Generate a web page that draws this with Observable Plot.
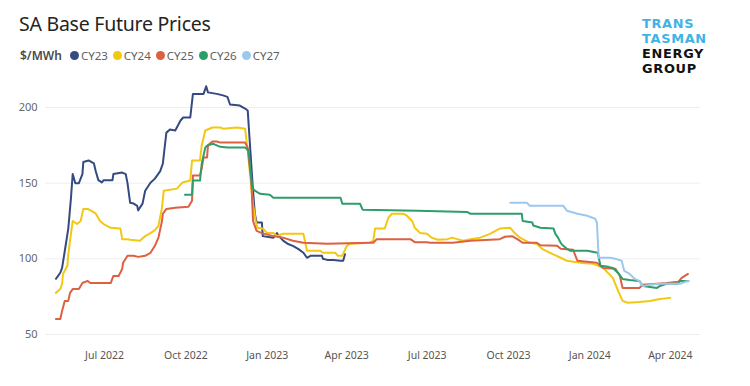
<!DOCTYPE html>
<html>
<head>
<meta charset="utf-8">
<script src="https://cdn.jsdelivr.net/npm/d3@7"></script>
<script src="https://cdn.jsdelivr.net/npm/@observablehq/plot@0.6"></script>
<style>
  html, body { margin: 0; padding: 0; background: #fff; }
  #wrap { position: relative; width: 750px; height: 386px; overflow: hidden; font-family: "Noto Sans", "Open Sans", sans-serif; }
  #title { position: absolute; left: 19px; top: 10px; font-size: 19.5px; color: #252423; letter-spacing: -0.25px; }
  #legend { position: absolute; left: 20px; top: 47px; display: flex; align-items: center; font-size: 11.5px; color: #605e5c; }
  #legend .unit { font-weight: 600; color: #4a4a4a; margin-right: 8px; font-size: 12px; }
  #legend .item { display: flex; align-items: center; margin-right: 5px; }
  #legend .dot { width: 9px; height: 9px; border-radius: 50%; margin-right: 2px; }
  #logo { position: absolute; z-index: 2; left: 642px; top: 15.5px; font-family: "DejaVu Sans", sans-serif; font-weight: 700; font-size: 12.9px; line-height: 15px; letter-spacing: 0.7px; }
  #logo div { height: 15px; white-space: nowrap; }
  #logo .b { color: #3fb3e6; }
  #logo .k { color: #111; }
  #chart { position: absolute; z-index: 1; left: 0; top: 70px; }
</style>
</head>
<body>
<div id="wrap">
  <div id="title">SA Base Future Prices</div>
  <div id="legend"></div>
  <div id="logo"><div class="b">TRANS</div><div class="b">TASMAN</div><div class="k">ENERGY</div><div class="k">GROUP</div></div>
  <div id="chart"></div>
</div>
<script>
const seriesNames = ["CY23", "CY24", "CY25", "CY26", "CY27"];
const seriesColors = ["#354a80", "#f2c811", "#dd6041", "#2e9d6c", "#9dc8ee"];
const unitLabel = "$/MWh";
const xTicks = ["2022-07-01","2022-10-01","2023-01-01","2023-04-01","2023-07-01","2023-10-01","2024-01-01","2024-04-01"];
const yTicks = [50, 100, 150, 200];

const cy23 = [["2022-05-07",86.8],["2022-05-12",90.8],["2022-05-14",94],["2022-05-17",105],["2022-05-21",120],["2022-05-24",140],["2022-05-26",156],["2022-05-29",150],["2022-06-02",150],["2022-06-06",156],["2022-06-07",164],["2022-06-13",165],["2022-06-19",163],["2022-06-21",158],["2022-06-24",152],["2022-06-28",150.5],["2022-06-30",152],["2022-07-10",152],["2022-07-11",156],["2022-07-21",157],["2022-07-25",156],["2022-07-27",150],["2022-07-30",137],["2022-08-03",136.5],["2022-08-07",135],["2022-08-08",132],["2022-08-13",136.5],["2022-08-16",145],["2022-08-22",150.3],["2022-08-27",153],["2022-09-02",158],["2022-09-05",163],["2022-09-07",173.5],["2022-09-09",183.4],["2022-09-13",185.4],["2022-09-19",184.8],["2022-09-25",191.4],["2022-09-28",193.4],["2022-10-06",193.4],["2022-10-09",209],["2022-10-21",209],["2022-10-24",214],["2022-10-26",210],["2022-11-05",209],["2022-11-12",208],["2022-11-17",207],["2022-11-20",202],["2022-12-01",201.3],["2022-12-07",199.3],["2022-12-10",198],["2022-12-12",180],["2022-12-16",145],["2022-12-18",130],["2022-12-20",124],["2022-12-26",124],["2022-12-27",115],["2023-01-08",114],["2023-01-12",117],["2023-01-16",114],["2023-01-19",112],["2023-01-24",110],["2023-01-30",108.6],["2023-02-05",106.6],["2023-02-11",104],["2023-02-15",100.7],["2023-02-19",102],["2023-03-04",102],["2023-03-05",100],["2023-03-10",99.3],["2023-03-17",99.3],["2023-03-25",98.7],["2023-03-28",98.7],["2023-03-30",103]];

const cy24 = [["2022-05-07",77.5],["2022-05-12",80],["2022-05-14",83.5],["2022-05-15",90],["2022-05-20",95.4],["2022-05-21",103],["2022-05-24",116.5],["2022-05-26",125],["2022-05-31",123],["2022-06-04",125],["2022-06-07",133],["2022-06-12",133],["2022-06-21",130],["2022-06-26",125],["2022-06-30",123],["2022-07-08",120.5],["2022-07-19",120],["2022-07-21",113],["2022-07-27",113],["2022-07-30",112.6],["2022-08-10",112],["2022-08-16",115],["2022-08-22",117],["2022-08-27",119],["2022-08-31",121.8],["2022-09-04",133.8],["2022-09-06",145],["2022-09-21",146.4],["2022-09-27",150.4],["2022-10-06",151.7],["2022-10-08",165],["2022-10-17",165],["2022-10-19",175],["2022-10-23",184.8],["2022-10-31",186.8],["2022-11-09",186.8],["2022-11-12",186],["2022-11-28",186.8],["2022-12-07",186],["2022-12-10",171.5],["2022-12-16",136],["2022-12-19",125],["2022-12-21",120.5],["2022-12-27",120],["2023-01-01",117],["2023-01-08",117],["2023-01-12",115],["2023-01-18",116.5],["2023-02-11",116.5],["2023-02-15",105.3],["2023-03-02",105.3],["2023-03-05",104],["2023-03-19",104],["2023-03-22",102],["2023-03-27",102],["2023-04-01",108.6],["2023-04-05",110],["2023-04-27",110.6],["2023-05-01",112],["2023-05-03",120],["2023-05-14",120],["2023-05-18",127],["2023-05-22",129.8],["2023-06-04",129.8],["2023-06-08",128.5],["2023-06-14",125],["2023-06-17",120.5],["2023-06-23",117],["2023-07-01",116.5],["2023-07-06",114],["2023-07-13",112.6],["2023-07-24",113],["2023-07-29",114],["2023-08-04",113],["2023-08-11",112],["2023-08-19",113],["2023-08-30",114],["2023-09-10",116.5],["2023-09-21",120],["2023-10-03",120.5],["2023-10-08",117],["2023-10-14",114],["2023-10-25",110.6],["2023-11-02",110],["2023-11-08",106.6],["2023-11-17",104],["2023-11-29",100.7],["2023-12-06",98.7],["2023-12-21",97.4],["2024-01-05",96.7],["2024-01-16",94],["2024-01-27",87.4],["2024-02-02",78.8],["2024-02-07",72.2],["2024-02-13",71],["2024-02-26",71.5],["2024-03-09",72.2],["2024-03-20",73.5],["2024-04-01",74.2]];

const cy25 = [["2022-05-07",60.3],["2022-05-12",60.3],["2022-05-14",65.6],["2022-05-17",72.2],["2022-05-21",72.2],["2022-05-23",77.5],["2022-05-26",80],["2022-06-02",80],["2022-06-06",84],["2022-06-12",85.4],["2022-06-15",84],["2022-07-08",84],["2022-07-11",88.7],["2022-07-17",88.7],["2022-07-21",93.4],["2022-07-22",97.4],["2022-07-27",102],["2022-08-03",102],["2022-08-08",101.3],["2022-08-16",102],["2022-08-22",104],["2022-08-27",108.6],["2022-08-31",114],["2022-09-04",125],["2022-09-05",129.8],["2022-09-09",133],["2022-09-19",133.8],["2022-10-04",134.4],["2022-10-08",138.4],["2022-10-09",155],["2022-10-17",155],["2022-10-19",160],["2022-10-21",167],["2022-10-25",167],["2022-10-26",175],["2022-10-31",177.5],["2022-11-05",177.5],["2022-11-09",176.8],["2022-12-07",176.8],["2022-12-10",173.5],["2022-12-14",151.6],["2022-12-16",125],["2022-12-20",118.5],["2022-12-26",117],["2023-01-08",115],["2023-01-19",114],["2023-01-30",112],["2023-02-11",110.6],["2023-03-10",110],["2023-04-27",110.6],["2023-05-01",110.6],["2023-05-05",113],["2023-06-12",113],["2023-06-17",111],["2023-07-01",111],["2023-07-04",110.6],["2023-07-30",110.6],["2023-08-19",112],["2023-09-21",113],["2023-09-27",114.6],["2023-10-05",115],["2023-10-11",113],["2023-10-17",110.6],["2023-11-02",110.6],["2023-11-06",109],["2023-11-25",108.6],["2023-11-29",106.6],["2023-12-13",106],["2023-12-18",98.7],["2024-01-09",97.4],["2024-01-16",94],["2024-01-30",93.4],["2024-02-04",88.7],["2024-02-07",80.8],["2024-02-26",80.8],["2024-03-01",82.8],["2024-03-17",83.5],["2024-03-28",84],["2024-04-10",84.8],["2024-04-14",87.4],["2024-04-21",90]];

const cy26 = [["2022-09-30",142.4],["2022-10-08",142.4],["2022-10-09",151.7],["2022-10-17",151.7],["2022-10-19",163],["2022-10-23",173.5],["2022-10-25",174.8],["2022-11-01",176],["2022-11-09",174],["2022-11-17",173.5],["2022-12-07",173.5],["2022-12-11",171.5],["2022-12-15",147],["2022-12-18",145],["2022-12-24",143],["2023-01-04",142.4],["2023-01-08",140.4],["2023-03-25",140.4],["2023-03-27",136.4],["2023-04-16",136.4],["2023-04-19",132.5],["2023-06-20",131.8],["2023-08-15",131],["2023-08-19",129.8],["2023-10-16",129.8],["2023-10-17",125],["2023-10-28",124],["2023-10-29",122],["2023-11-06",120.5],["2023-11-21",120],["2023-11-23",116.5],["2023-11-26",114],["2023-11-29",110.6],["2023-12-02",108.6],["2023-12-06",106.6],["2023-12-10",105.3],["2023-12-29",105.3],["2024-01-10",104],["2024-01-13",95.4],["2024-01-22",94.7],["2024-01-27",94],["2024-02-02",90.7],["2024-02-07",86.7],["2024-02-15",86],["2024-02-26",85.4],["2024-03-01",82],["2024-03-17",80.8],["2024-03-20",82],["2024-03-28",83.5],["2024-04-09",83.5],["2024-04-12",85.4],["2024-04-21",85.4]];

const cy27 = [["2023-10-03",137],["2023-10-22",137],["2023-10-25",135],["2023-12-02",135],["2023-12-06",131.8],["2023-12-18",129.8],["2023-12-29",128.5],["2024-01-07",126.5],["2024-01-09",124],["2024-01-11",100.7],["2024-01-24",100.7],["2024-01-30",100],["2024-02-06",98.7],["2024-02-09",92],["2024-02-15",90],["2024-02-21",86.7],["2024-02-26",85.4],["2024-03-01",82],["2024-03-09",82.8],["2024-03-20",83.5],["2024-04-12",83.5],["2024-04-18",84.8],["2024-04-22",85.4]];

const seriesData = [cy23, cy24, cy25, cy26, cy27];
const rows = seriesData.flatMap((arr, i) => arr.map(([d, v]) => ({series: seriesNames[i], date: new Date(d), value: v})));

// legend
const legend = document.getElementById("legend");
const u = document.createElement("span"); u.className = "unit"; u.textContent = unitLabel; legend.appendChild(u);
seriesNames.forEach((n, i) => {
  const it = document.createElement("span"); it.className = "item";
  const dot = document.createElement("span"); dot.className = "dot"; dot.style.background = seriesColors[i];
  const t = document.createElement("span"); t.textContent = n;
  it.appendChild(dot); it.appendChild(t); legend.appendChild(it);
});

const chart = Plot.plot({
  width: 750,
  height: 316,
  marginLeft: 50.1,
  marginRight: 53.7,
  marginTop: 37,
  marginBottom: 52,
  style: {fontFamily: '"Noto Sans", "Open Sans", sans-serif', background: "transparent"},
  x: {type: "utc", domain: [new Date("2022-05-01"), new Date("2024-05-01")]},
  y: {domain: [50, 200]},
  color: {domain: seriesNames, range: seriesColors},
  marks: [
    Plot.ruleY(yTicks, {stroke: "#eeeeee", strokeWidth: 1, insetLeft: -5, insetRight: -4}),
    Plot.axisY(yTicks, {tickSize: 0, tickPadding: 13, fontSize: 11, color: "#666666", label: null}),
    Plot.axisX(xTicks.map(d => new Date(d)), {tickSize: 0, tickPadding: 17, fontSize: 10.5, color: "#555555", tickFormat: d3.utcFormat("%b %Y"), label: null}),
    Plot.line(rows, {x: "date", y: "value", z: "series", stroke: "series", strokeWidth: 2, strokeLinejoin: "round"})
  ]
});
document.getElementById("chart").appendChild(chart);
</script>
</body>
</html>
